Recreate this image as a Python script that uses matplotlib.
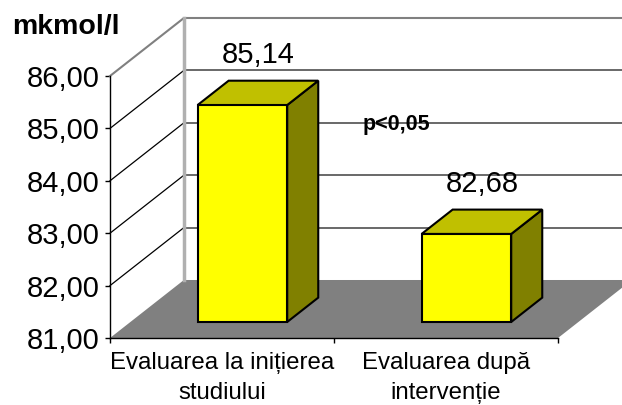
import matplotlib.pyplot as plt
from matplotlib.patches import Polygon

# chart data
categories = ['Evaluarea la inițierea\nstudiului', 'Evaluarea după\nintervenție']
values = [85.14, 82.68]
value_labels = ['85,14', '82,68']
y_ticks = [81, 82, 83, 84, 85, 86]
y_tick_labels = ['81,00', '82,00', '83,00', '84,00', '85,00', '86,00']
unit_label = 'mkmol/l'
note = 'p<0,05'

plt.rcParams['font.family'] = ['Liberation Sans', 'DejaVu Sans']

fig = plt.figure(figsize=(6.22, 4.05), dpi=100)
ax = fig.add_axes([110 / 622, 67 / 405, 448 / 622, 262 / 405])
ymin, ymax = y_ticks[0], y_ticks[-1]
ax.set_xlim(0, len(categories))
ax.set_ylim(ymin, ymax)

# oblique offset of the back wall, in data units
DX, DY = 0.33, 1.107
# bar width, front depth and bar depth (fractions of the box depth)
BW, D0, DD = 0.4, 0.276, 0.42
n = len(categories)

# floor
ax.add_patch(Polygon([(0, ymin), (DX, ymin + DY), (n + DX, ymin + DY), (n, ymin)],
                     closed=True, fc='#808080', ec='none', zorder=1, clip_on=False))

# side wall diagonals and back wall gridlines
for v in y_ticks[1:-1]:
    ax.plot([0, DX], [v, v + DY], color='black', lw=0.9, zorder=2, clip_on=False)
    ax.plot([DX, n + DX], [v + DY, v + DY], color='#404040', lw=1.1, zorder=2, clip_on=False)
ax.plot([0, DX, n + DX], [ymax, ymax + DY, ymax + DY], color='#808080', lw=1.5,
        zorder=2, clip_on=False)
ax.plot([DX, DX], [ymin + DY, ymax + DY], color='#b0b0b0', lw=2.5, zorder=2, clip_on=False)

# 3d bars
for i, v in enumerate(values):
    cx = i + 0.5
    x0 = cx - BW / 2 + D0 * DX
    x1 = x0 + BW
    yb = ymin + D0 * DY
    yt = v + D0 * DY
    ddx, ddy = DD * DX, DD * DY
    kw = dict(closed=True, ec='black', lw=1.5, joinstyle='miter', zorder=3, clip_on=False)
    ax.add_patch(Polygon([(x1, yb), (x1, yt), (x1 + ddx, yt + ddy), (x1 + ddx, yb + ddy)],
                         fc='#808000', **kw))
    ax.add_patch(Polygon([(x0, yt), (x0 + ddx, yt + ddy), (x1 + ddx, yt + ddy), (x1, yt)],
                         fc='#c0c000', **kw))
    ax.add_patch(Polygon([(x0, yb), (x0, yt), (x1, yt), (x1, yb)], fc='#ffff00', **kw))
    ax.annotate(value_labels[i], (cx + (D0 + DD / 2) * DX, yt), xytext=(0, 36),
                textcoords='offset points', ha='center', va='center', fontsize=21,
                zorder=4, annotation_clip=False)

ax.text(1.277, 85.065, note, fontsize=15.5, fontweight='bold', ha='center', va='center',
        zorder=4)
fig.text(12 / 622, 1 - 27 / 405, unit_label, fontsize=20.5, fontweight='bold',
         ha='left', va='center')

# axes
ax.set_yticks(y_ticks)
ax.set_yticklabels(y_tick_labels, fontsize=21)
ax.tick_params(axis='y', length=3.6, width=1, pad=4.0, direction='out')
ax.set_xticks(range(n + 1))
ax.set_xticklabels([''] * (n + 1))
ax.tick_params(axis='x', which='major', length=3.6, width=1, direction='out')
ax.set_xticks([i + 0.5 for i in range(n)], minor=True)
ax.set_xticklabels(categories, minor=True, fontsize=17.3, linespacing=1.5)
ax.tick_params(axis='x', which='minor', length=0, pad=10)
for s in ['top', 'right']:
    ax.spines[s].set_visible(False)
for s in ['left', 'bottom']:
    ax.spines[s].set_linewidth(1)
    ax.spines[s].set_zorder(5)
ax.patch.set_visible(False)

fig.savefig('out.png', dpi=100)
